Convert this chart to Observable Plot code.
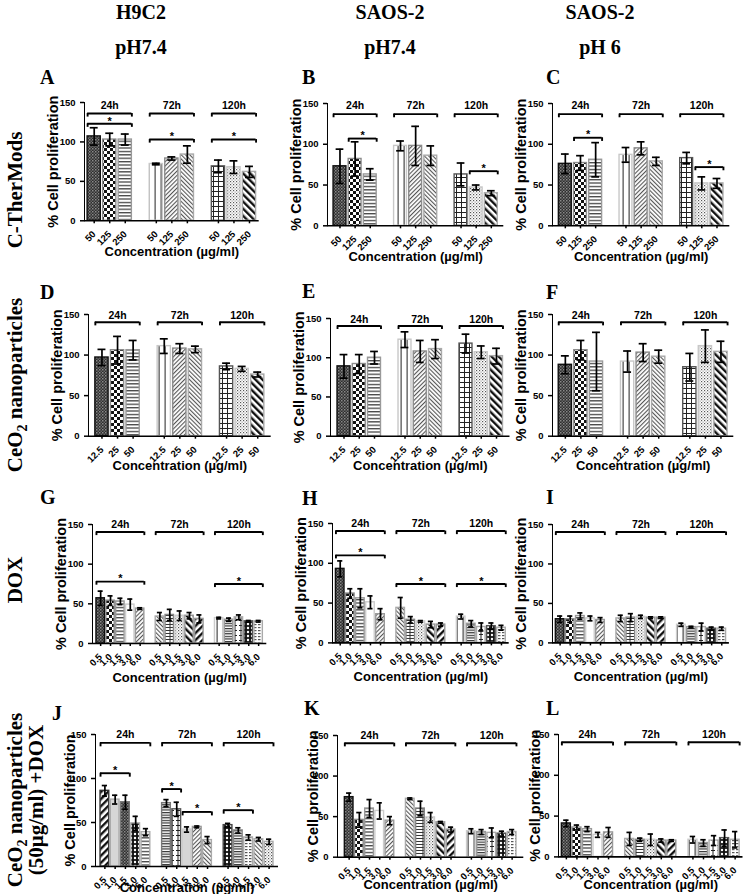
<!DOCTYPE html>
<html><head><meta charset="utf-8">
<script src="https://cdn.jsdelivr.net/npm/d3@7"></script>
<script src="https://cdn.jsdelivr.net/npm/@observablehq/plot@0.6"></script>
<style>
body{margin:0;background:#fff;}
#fig{position:relative;width:745px;height:894px;overflow:hidden;background:#fff;}
.panel{position:absolute;}
#overlay{position:absolute;left:0;top:0;z-index:2;pointer-events:none;}
#fig svg [aria-label^="y-axis"], #fig svg [aria-label^="x-axis"]{stroke-width:1.5px;}
</style></head><body>
<svg width="0" height="0" style="position:absolute"><defs id="defs"></defs></svg>
<div id="fig"></div>
<script>
// ---------- categories ----------
const times = ["24h", "72h", "120h"];
const concCT = ["50", "125", "250"];
const concCe = ["12.5", "25", "50"];
const concDox = ["0.5", "1.0", "1.5", "3.0", "6.0"];

// ---------- values: rows = 24h, 72h, 120h ----------
const meanA = [[107, 103, 103], [72, 79, 84], [69, 68, 62]];
const errA  = [[11, 8, 7], [1, 2, 11], [8, 8, 7]];
const meanB = [[73, 82, 63], [98, 98, 86], [63, 47, 40]];
const errB  = [[21, 21, 7], [6, 24, 12], [14, 3, 3]];
const meanC = [[76, 77, 81], [87, 95, 79], [83, 52, 52]];
const errC  = [[12, 9, 21], [9, 8, 5], [7, 8, 6]];
const meanD = [[97, 106, 106], [111, 108, 107], [86, 83, 76]];
const errD  = [[10, 17, 12], [9, 6, 4], [4, 3, 3]];
const meanE = [[89, 92, 100], [123, 108, 111], [118, 107, 102]];
const errE  = [[15, 12, 8], [10, 14, 12], [12, 8, 10]];
const meanF = [[88, 106, 92], [92, 103, 98], [85, 111, 104]];
const errF  = [[11, 12, 36], [13, 11, 8], [17, 20, 13]];
const meanG = [[57, 54, 53, 49, 44], [34, 36, 35, 35, 31], [32, 30, 33, 28, 28]];
const errG  = [[9, 6, 4, 7, 1], [5, 7, 6, 4, 5], [1, 2, 3, 1, 1]];
const meanH = [[93, 62, 56, 51, 36], [44, 29, 27, 23, 23], [33, 24, 20, 21, 19]];
const errH  = [[10, 6, 12, 8, 7], [13, 4, 1, 4, 2], [3, 4, 5, 4, 3]];
const meanI = [[30, 30, 34, 31, 29], [31, 32, 33, 32, 32], [23, 20, 20, 18, 18]];
const errI  = [[4, 4, 4, 3, 3], [4, 5, 2, 1, 1], [2, 1, 5, 2, 2]];
const meanJ = [[86, 76, 73, 49, 39], [72, 65, 42, 45, 30], [47, 41, 33, 31, 28]];
const errJ  = [[6, 5, 8, 8, 4], [4, 8, 3, 1, 4], [2, 3, 3, 2, 3]];
const meanK = [[74, 46, 60, 57, 45], [72, 60, 49, 43, 34], [32, 31, 30, 29, 31]];
const errK  = [[5, 9, 11, 10, 5], [1, 9, 6, 1, 3], [3, 3, 6, 3, 3]];
const meanL = [[41, 36, 34, 27, 30], [22, 21, 21, 20, 20], [21, 17, 20, 23, 21]];
const errL  = [[4, 3, 3, 3, 6], [8, 2, 7, 2, 1], [4, 4, 6, 10, 10]];

// significance brackets: [time, from index, to index, level]
const sigA = [["24h", 0, 2, 123], ["72h", 0, 2, 103], ["120h", 0, 2, 103]];
const sigB = [["24h", 1, 2, 107], ["120h", 1, 2, 67]];
const sigC = [["24h", 1, 2, 108], ["120h", 1, 2, 72]];
const sigG = [["24h", 0, 4, 78], ["120h", 0, 4, 75]];
const sigH = [["24h", 0, 4, 110], ["72h", 0, 4, 74], ["120h", 0, 4, 74]];
const sigJ = [["24h", 0, 2, 106], ["72h", 0, 1, 88], ["72h", 2, 4, 62], ["120h", 0, 2, 64]];

// text labels
const colHeads = ["H9C2", "SAOS-2", "SAOS-2"];
const colSubs = ["pH7.4", "pH7.4", "pH 6"];
const yTitle = "% Cell proliferation";
const xTitle = "Concentration (µg/ml)";

// ---------- patterns (styles) ----------
document.getElementById("defs").innerHTML = `
<pattern id="pDark" width="3" height="3" patternUnits="userSpaceOnUse"><rect width="3" height="3" fill="#2e2e2e"/><rect width="1.5" height="1.5" fill="#8a8a8a"/><rect x="1.5" y="1.5" width="1.5" height="1.5" fill="#666"/></pattern>
<pattern id="pCheck" width="6" height="6" patternUnits="userSpaceOnUse"><rect width="6" height="6" fill="#fff"/><rect width="3" height="3" fill="#111"/><rect x="3" y="3" width="3" height="3" fill="#111"/></pattern>
<pattern id="pHL" width="4" height="3.4" patternUnits="userSpaceOnUse"><rect width="4" height="3.4" fill="#fff"/><rect width="4" height="1.3" fill="#444"/></pattern>
<pattern id="pHLd" width="4" height="2.6" patternUnits="userSpaceOnUse"><rect width="4" height="2.6" fill="#fff"/><rect width="4" height="1.2" fill="#333"/></pattern>
<pattern id="pVL" width="6" height="4" patternUnits="userSpaceOnUse"><rect width="6" height="4" fill="#fff"/><rect x="2.6" width="1" height="4" fill="#222"/></pattern>
<pattern id="pDR" width="3" height="3" patternUnits="userSpaceOnUse" patternTransform="rotate(45)"><rect width="3" height="3" fill="#fff"/><rect width="1.1" height="3" fill="#555"/></pattern>
<pattern id="pDL" width="3" height="3" patternUnits="userSpaceOnUse" patternTransform="rotate(-45)"><rect width="3" height="3" fill="#fff"/><rect width="1.1" height="3" fill="#555"/></pattern>
<pattern id="pGrid" width="5" height="5" patternUnits="userSpaceOnUse"><rect width="5" height="5" fill="#fff"/><rect width="5" height="1" fill="#222"/><rect width="1" height="5" fill="#222"/></pattern>
<pattern id="pDots" width="3" height="3" patternUnits="userSpaceOnUse"><rect width="3" height="3" fill="#fff"/><rect width="1.2" height="1.2" fill="#555"/><rect x="1.5" y="1.5" width="1.2" height="1.2" fill="#999"/></pattern>
<pattern id="pThickDL" width="5" height="5" patternUnits="userSpaceOnUse" patternTransform="rotate(-45)"><rect width="5" height="5" fill="#fff"/><rect width="2.4" height="5" fill="#111"/></pattern>
<pattern id="pThickDR" width="5" height="5" patternUnits="userSpaceOnUse" patternTransform="rotate(45)"><rect width="5" height="5" fill="#fff"/><rect width="2.4" height="5" fill="#111"/></pattern>
<pattern id="pPolka" width="4" height="4" patternUnits="userSpaceOnUse"><rect width="4" height="4" fill="#111"/><circle cx="2" cy="2" r="1.2" fill="#fff"/></pattern>
<pattern id="pPlus" width="6" height="5" patternUnits="userSpaceOnUse"><rect width="6" height="5" fill="#fff"/><rect x="2.5" width="1" height="5" fill="#222"/><rect x="1" y="2" width="4" height="1" fill="#222"/></pattern>
<pattern id="pHVL" width="8" height="3" patternUnits="userSpaceOnUse"><rect width="8" height="3" fill="#fff"/><rect width="8" height="1" fill="#333"/><rect x="3.5" width="1" height="3" fill="#333"/></pattern>
<pattern id="pDash" width="4" height="3" patternUnits="userSpaceOnUse"><rect width="4" height="3" fill="#fff"/><rect width="2.5" height="1.2" fill="#555"/></pattern>
<pattern id="pBlank" width="4" height="4" patternUnits="userSpaceOnUse"><rect width="4" height="4" fill="#fff"/></pattern>
<pattern id="pLight" width="4" height="4" patternUnits="userSpaceOnUse"><rect width="4" height="4" fill="#d6d6d6"/></pattern>`;

const style3 = [["pDark","#111"],["pCheck","#8c8c8c"],["pHL","#999"],
                ["pVL","#c8c8c8"],["pDR","#8c8c8c"],["pDL","#aaa"],
                ["pGrid","#555"],["pDots","#c8c8c8"],["pThickDL","#aaa"]];
const style5 = [["pDark","#111"],["pCheck","#8c8c8c"],["pHL","#999"],["pBlank","#ccc"],["pDR","#999"],
                ["pDL","#aaa"],["pHVL","#888"],["pDots","#ccc"],["pThickDL","#999"],["pThickDR","#999"],
                ["pVL","#ccc"],["pHLd","#999"],["pPlus","#aaa"],["pPolka","#555"],["pDash","#aaa"]];
const styleJ = [["pThickDR","#333"],["pLight","#aaa"],["pDark","#777"],["pPolka","#aaa"],["pHL","#aaa"],
                ["pHLd","#777"],["pPlus","#555"],["pLight","#ccc"],["pDR","#999"],["pDL","#aaa"],
                ["pPolka","#444"],["pHLd","#888"],["pDash","#aaa"],["pDL","#aaa"],["pDots","#aaa"]];

// ---------- panel layout ----------
const panels = [
  {conc: concCT, mean: meanA, err: errA, sig: sigA, st: style3, left: 84.3, right: 259, top: 101.7, bottom: 220, po: 0.2, br: 136, gl: 146, xt: 31, yt: -31},
  {conc: concCT, mean: meanB, err: errB, sig: sigB, st: style3, left: 326.7, right: 503, top: 102.7, bottom: 225, po: 0.4, br: 137, gl: 147, xt: 31, yt: -31},
  {conc: concCT, mean: meanC, err: errC, sig: sigC, st: style3, left: 551.7, right: 729, top: 102.7, bottom: 225, po: 0.42, br: 137, gl: 147, xt: 31, yt: -31},
  {conc: concCe, mean: meanD, err: errD, sig: [], st: style3, left: 88.3, right: 271, top: 314, bottom: 435.7, po: 0.44, br: 140.5, gl: 148, xt: 30, yt: -31},
  {conc: concCe, mean: meanE, err: errE, sig: [], st: style3, left: 330, right: 509.5, top: 318.3, bottom: 436, po: 0.46, br: 140.5, gl: 148, xt: 30, yt: -31},
  {conc: concCe, mean: meanF, err: errF, sig: [], st: style3, left: 551.7, right: 733, top: 314, bottom: 435.7, po: 0.4, br: 140.5, gl: 148, xt: 30, yt: -31},
  {conc: concDox, mean: meanG, err: errG, sig: sigG, st: style5, left: 91.7, right: 266, top: 524.3, bottom: 643.3, po: 0.4, br: 140.5, gl: 150, xt: 34, yt: -31},
  {conc: concDox, mean: meanH, err: errH, sig: sigH, st: style5, left: 332.3, right: 509, top: 523.3, bottom: 642.7, po: 0.34, br: 140.5, gl: 150, xt: 34, yt: -31},
  {conc: concDox, mean: meanI, err: errI, sig: [], st: style5, left: 551.7, right: 728.6, top: 524.3, bottom: 642.7, po: 0.33, br: 140.5, gl: 150, xt: 34, yt: -31},
  {conc: concDox, mean: meanJ, err: errJ, sig: sigJ, st: styleJ, left: 95, right: 278, top: 734, bottom: 866, po: 0.49, br: 140.5, gl: 150, xt: 21, yt: -25},
  {conc: concDox, mean: meanK, err: errK, sig: [], st: style5, left: 336.7, right: 523, top: 735, bottom: 856.7, po: 0.72, br: 140.5, gl: 150, xt: 28, yt: -24},
  {conc: concDox, mean: meanL, err: errL, sig: [], st: style5, left: 558.3, right: 742.8, top: 734.3, bottom: 856.7, po: 0.32, br: 140.5, gl: 150, xt: 28, yt: -23},
];

const fig = document.getElementById("fig");

function drawPanel(p) {
  const ml = 46, mr = 4, mt = 26, mb = 52;
  const W = p.right - p.left + ml + mr;
  const H = p.bottom - p.top + mt + mb;
  const n = p.conc.length;
  const keys = [], tickKeys = [], rows = [], groups = [];
  times.forEach((t, gi) => {
    if (gi > 0) keys.push("gap" + gi);
    p.conc.forEach((c, ci) => {
      const k = t + "|" + c;
      keys.push(k); tickKeys.push(k);
      const s = p.st[gi * n + ci];
      rows.push({key: k, v: p.mean[gi][ci], e: p.err[gi][ci], fill: `url(#${s[0]})`, stroke: s[1]});
    });
    groups.push({time: t, a: t + "|" + p.conc[0], mid: t + "|" + p.conc[(n - 1) / 2], b: t + "|" + p.conc[n - 1], y: p.br});
  });
  const sigs = p.sig.map(([t, a, b, y]) => ({a: t + "|" + p.conc[a], b: t + "|" + p.conc[b], y}));
  const allBr = [...groups, ...sigs];

  const base = {
    width: W, height: H, marginLeft: ml, marginRight: mr, marginTop: mt, marginBottom: mb,
    x: {type: "band", domain: keys, paddingInner: 0.15, paddingOuter: p.po, round: false,
        ticks: tickKeys, tickFormat: k => k.split("|")[1], tickRotate: -45, tickSize: 3, label: null},
    y: {domain: [0, 150], ticks: [0, 50, 100, 150], tickSize: 4, label: null, line: true},
    color: {type: "identity"},
    style: {fontFamily: "'Liberation Sans', Arial, sans-serif", fontSize: "9.5px", fontWeight: "bold",
            color: "#000", background: "transparent", overflow: "visible"}
  };
  const probe = Plot.plot({...base, marks: [Plot.barY(rows, {x: "key", y: "v"})]});
  const xs = probe.scale("x");
  const bw = xs.bandwidth;
  const cap = bw * 0.2;
  const tk = 4.5;

  const marks = [
    Plot.barY(rows, {x: "key", y: "v", fill: "fill", stroke: "stroke", strokeWidth: 1.4}),
    Plot.ruleX(rows, {x: "key", y1: d => d.v - d.e, y2: d => d.v + d.e, stroke: "#000", strokeWidth: 1.7}),
    Plot.tickY(rows, {x: "key", y: d => d.v + d.e, stroke: "#000", strokeWidth: 1.7, inset: cap}),
    Plot.tickY(rows, {x: "key", y: d => d.v - d.e, stroke: "#000", strokeWidth: 1.7, inset: cap}),
    Plot.ruleY([0], {stroke: "#000", strokeWidth: 1.6}),
    Plot.ruleY(allBr, {x1: "a", x2: "b", y: "y", stroke: "#000", strokeWidth: 1.9}),
    Plot.ruleX(allBr, {x: "a", y1: d => d.y - tk, y2: "y", dx: -bw / 2, stroke: "#000", strokeWidth: 1.9}),
    Plot.ruleX(allBr, {x: "b", y1: d => d.y - tk, y2: "y", dx: bw / 2, stroke: "#000", strokeWidth: 1.9}),
    Plot.text(groups, {x: "mid", y: p.gl, text: "time", fontSize: 10.5, fontWeight: "bold", fill: "#000"}),
    ...sigs.map(s => Plot.text([s], {x: "a", y: s.y + 3.5, text: () => "*", dx: (xs.apply(s.b) - xs.apply(s.a)) / 2,
                                      fontSize: 11, fontWeight: "bold", fill: "#000"})),
    Plot.text([yTitle], {frameAnchor: "left", textAnchor: "middle", lineAnchor: "middle", rotate: -90, dx: p.yt,
                         text: d => d, fontSize: 14.5, fontWeight: "bold", fill: "#000"}),
    Plot.text([xTitle], {frameAnchor: "bottom", textAnchor: "middle", lineAnchor: "middle", dy: p.xt,
                         text: d => d, fontSize: 13, fontWeight: "bold", fill: "#000"})
  ];
  const svg = Plot.plot({...base, marks});
  const wrap = document.createElement("div");
  wrap.className = "panel";
  wrap.style.left = (p.left - ml) + "px";
  wrap.style.top = (p.top - mt) + "px";
  wrap.style.width = W + "px";
  wrap.appendChild(svg);
  fig.appendChild(wrap);
}
panels.forEach(drawPanel);

// ---------- overlay text: headers, panel letters, row labels ----------
const NS = "http://www.w3.org/2000/svg";
const ov = document.createElementNS(NS, "svg");
ov.setAttribute("id", "overlay");
ov.setAttribute("width", 745); ov.setAttribute("height", 894);
ov.setAttribute("font-family", "'Liberation Serif', 'Times New Roman', serif");
ov.setAttribute("font-weight", "bold");
fig.appendChild(ov);
function txt(str, x, y, size, anchor, rot) {
  const t = document.createElementNS(NS, "text");
  t.setAttribute("x", x); t.setAttribute("y", y);
  t.setAttribute("font-size", size);
  t.setAttribute("text-anchor", anchor || "start");
  if (rot) t.setAttribute("transform", `rotate(${rot},${x},${y})`);
  t.innerHTML = str;
  ov.appendChild(t);
  return t;
}
const colX = [141, 390, 600];
colHeads.forEach((s, i) => txt(s, colX[i], 19, 20, "middle"));
colSubs.forEach((s, i) => txt(s, colX[i], 54, 20, "middle"));
const letters = [["A", 40, 84], ["B", 302, 84], ["C", 546, 84],
                 ["D", 40, 299], ["E", 302, 298], ["F", 546, 299],
                 ["G", 40, 504], ["H", 302, 505], ["I", 546, 504],
                 ["J", 52, 720], ["K", 304, 715], ["L", 546, 715]];
letters.forEach(([s, x, y]) => txt(s, x, y, 20, "start"));
const ceo = 'CeO<tspan font-size="14" dy="5">2</tspan><tspan dy="-5"> nanoparticles</tspan>';
txt("C-TherMods", 22, 190, 21, "middle", -90);
txt(ceo, 22, 385, 21, "middle", -90);
txt("DOX", 22, 580, 21, "middle", -90);
txt(ceo, 22, 800, 21, "middle", -90);
txt("(50μg/ml) +DOX", 43, 800, 21, "middle", -90);
</script></body></html>
